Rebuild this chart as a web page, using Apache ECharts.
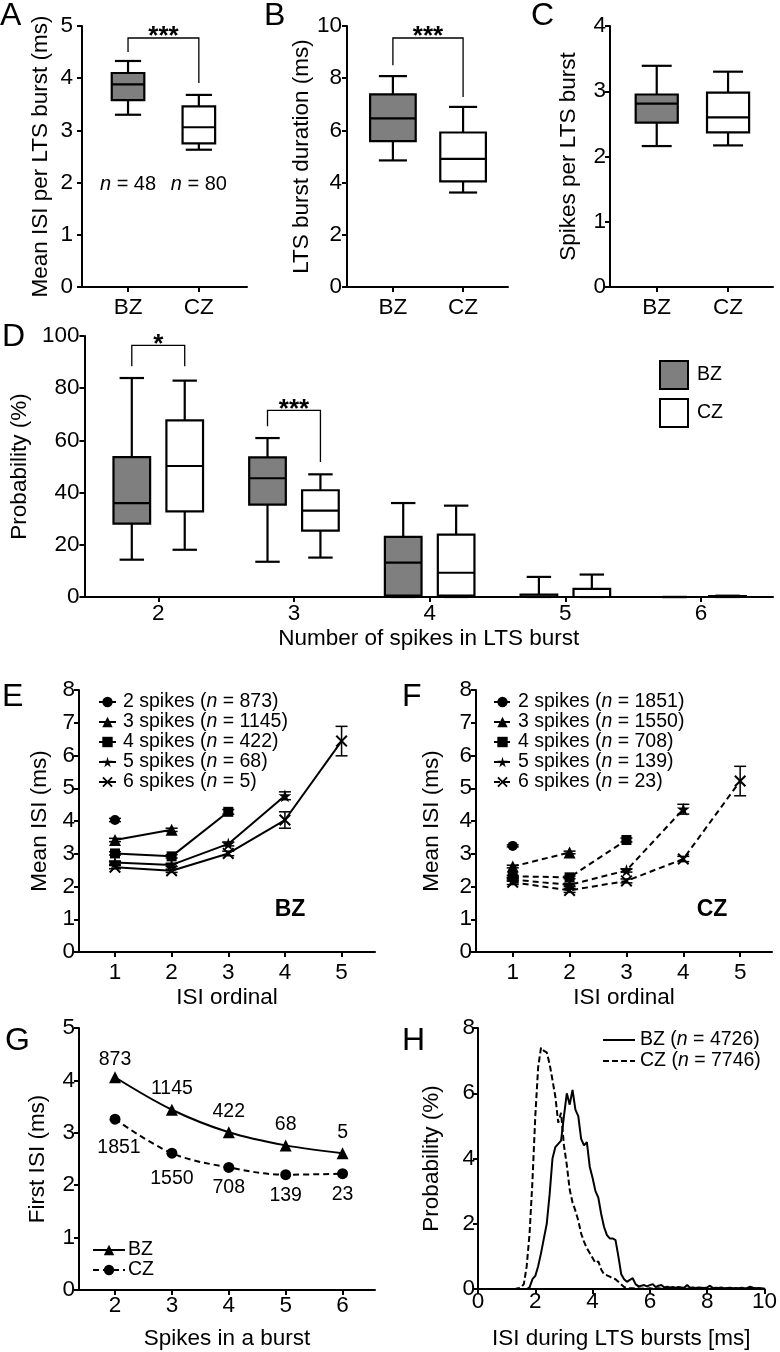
<!DOCTYPE html>
<html>
<head>
<meta charset="utf-8">
<title>LTS burst statistics</title>
<script src="https://cdn.jsdelivr.net/npm/echarts@6/dist/echarts.min.js"></script>
<style>
html, body { margin: 0; padding: 0; background: #fff; }
#chart { width: 780px; height: 1352px; }
</style>
</head>
<body>
<div id="chart"></div>
<script>
var FONT = "'Liberation Sans', Arial, Helvetica, sans-serif";

// ---- data ----
var groups = ['BZ', 'CZ'];
var nCells = [48, 80];
// box plots: [min, Q1, median, Q3, max]
var meanIsiBZ = [3.30, 3.58, 3.88, 4.10, 4.33];
var meanIsiCZ = [2.63, 2.75, 3.06, 3.46, 3.68];
var durationBZ = [4.85, 5.59, 6.46, 7.38, 8.08];
var durationCZ = [3.62, 4.05, 4.91, 5.92, 6.90];
var spikesBZ = [2.16, 2.52, 2.81, 2.95, 3.39];
var spikesCZ = [2.17, 2.37, 2.60, 2.98, 3.30];

var burstSizes = [2, 3, 4, 5, 6];
var probBZ = [
    [14.3, 28.1, 36.0, 53.6, 83.9],
    [13.5, 35.4, 45.5, 53.5, 60.9],
    [0, 0.5, 13.2, 23.0, 36.0],
    [0, 0, 0, 0.9, 7.7],
    [0, 0, 0, 0, 0]
];
var probCZ = [
    [18.1, 32.8, 50.2, 67.7, 82.9],
    [15.1, 25.4, 33.1, 40.9, 47.0],
    [0, 0.5, 9.3, 23.9, 35.0],
    [0, 0, 0, 3.1, 8.6],
    [0, 0, 0, 0.3, 0.5]
];

// significance brackets: [top, left end, right end]
var sigA = [4.77, 4.50, 3.91];
var sigB = [9.54, 8.50, 7.28];
var sigDBursts = [2, 3];
var sigD = [[96.4, 88.4, 88.4], [71.5, 65.4, 51.7]];
var starsA = '***', starsB = '***', starsD = ['*', '***'];

// E / F: mean ISI by ordinal, one array per burst size
var ordinals = [1, 2, 3, 4, 5];
var isiBZ = [[4.03], [3.42, 3.73], [3.01, 2.92, 4.28], [2.73, 2.66, 3.30, 4.77], [2.59, 2.48, 3.01, 4.03, 6.44]];
var semBZ = [[0.05], [0.05, 0.05], [0.05, 0.05, 0.07], [0.05, 0.05, 0.06, 0.12], [0.05, 0.05, 0.07, 0.25, 0.45]];
var isiCZ = [[3.24], [2.61, 3.04], [2.31, 2.28, 3.42], [2.21, 2.05, 2.49, 4.36], [2.13, 1.88, 2.17, 2.84, 5.22]];
var semCZ = [[0.03], [0.04, 0.04], [0.03, 0.04, 0.06], [0.05, 0.05, 0.05, 0.15], [0.07, 0.06, 0.06, 0.08, 0.45]];
var nBZ = [873, 1145, 422, 68, 5];
var nCZ = [1851, 1550, 708, 139, 23];

// G: first ISI by burst size
var firstIsiBZ = [4.06, 3.44, 3.01, 2.76, 2.61];
var firstIsiCZ = [3.26, 2.61, 2.34, 2.20, 2.22];

// H: ISI histogram (%)
var isiBins = [0, 1.2, 1.3, 1.4, 1.5, 1.6, 1.7, 1.8, 1.9, 2.0, 2.1, 2.2, 2.3, 2.4, 2.5, 2.6, 2.7, 2.8, 2.9,
    3.0, 3.1, 3.2, 3.3, 3.4, 3.5, 3.6, 3.7, 3.8, 3.9, 4.0, 4.1, 4.2, 4.3, 4.4, 4.5, 4.6, 4.7, 4.8, 4.9,
    5.0, 5.1, 5.2, 5.3, 5.4, 5.5, 5.6, 5.7, 5.8, 5.9, 6.0, 6.1, 6.2, 6.3, 6.4, 6.5, 6.6, 6.7, 6.8, 6.9,
    7.0, 7.1, 7.2, 7.3, 7.4, 7.5, 7.6, 7.7, 7.8, 7.9, 8.0, 8.1, 8.2, 8.3, 8.4, 8.5, 8.6, 8.7, 8.8, 8.9,
    9.0, 9.1, 9.2, 9.3, 9.4, 9.5, 9.6, 9.7, 9.8, 9.9, 10.0];
var histBZ = [0, 0, 0, 0, 0, 0, 0, 0.05, 0.3, 0.4, 0.7, 1.1, 1.55, 2.0, 2.9, 4.0, 4.35, 4.45, 4.55,
    5.3, 6.0, 5.65, 6.1, 5.5, 5.3, 4.6, 4.4, 4.5, 3.75, 3.4, 3.0, 2.8, 2.3, 1.9, 1.65, 1.55, 1.55, 1.5, 1.0,
    0.45, 0.3, 0.22, 0.28, 0.33, 0.15, 0.08, 0.1, 0.12, 0.08, 0.12, 0.15, 0.06, 0.1, 0.12, 0.05, 0.07, 0.05, 0.06, 0.04,
    0.06, 0.05, 0.04, 0.12, 0.04, 0.05, 0.03, 0.05, 0.04, 0.03, 0.05, 0.1, 0.03, 0.04, 0.03, 0.05, 0.02, 0.03, 0.04, 0.02,
    0.03, 0.02, 0.04, 0.02, 0.03, 0.07, 0.04, 0.02, 0.03, 0.02, 0.01];
var histCZ = [0, 0, 0, 0.02, 0.05, 0.15, 0.7, 1.7, 3.3, 5.3, 6.8, 7.4, 7.3, 7.25, 6.9, 6.4, 5.9, 5.1, 5.4,
    4.4, 3.8, 3.05, 2.65, 2.4, 2.1, 1.7, 1.45, 1.25, 1.1, 0.95, 0.8, 0.85, 0.6, 0.45, 0.42, 0.38, 0.33, 0.3, 0.22,
    0.14, 0.06, 0.03, 0.02, 0.02, 0.01, 0.02, 0.01, 0.02, 0.01, 0.02, 0.01, 0.01, 0.02, 0.01, 0.01, 0.02, 0.01, 0.01, 0.01,
    0.02, 0.01, 0.01, 0.01, 0.02, 0.01, 0.01, 0.01, 0.01, 0.02, 0.01, 0.01, 0.01, 0.01, 0.01, 0.02, 0.01, 0.01, 0.01, 0.01,
    0.01, 0.01, 0.01, 0.01, 0.01, 0.02, 0.01, 0.01, 0.01, 0.01, 0.01];
var nH = [4726, 7746];

// ---- styling ----
var GRAY = '#7f7f7f';
var GROUP_OFFSET = 0.195;   // BZ / CZ box offset in panel D
var N_LABEL_Y = 1.97;
var STAR = 'path://M5,0L6.1,3.7L10,3.7L6.9,6L8.1,9.8L5,7.4L1.9,9.8L3.1,6L0,3.7L3.9,3.7Z';
var CROSS = 'path://M0,1.2L1.2,0L5,3.8L8.8,0L10,1.2L6.2,5L10,8.8L8.8,10L5,6.2L1.2,10L0,8.8L3.8,5Z';
var spikeSymbols = ['circle', 'triangle', 'rect', STAR, CROSS];
var spikeSymbolSizes = [10, 12, 10, 13, 12];

function valueAxis(gridIndex, o) {
    var ax = {
        type: 'value', gridIndex: gridIndex,
        min: o.min, max: o.max,
        name: o.name || '', nameLocation: 'middle', nameGap: o.nameGap || 30,
        nameRotate: o.rotate || 0,
        nameTextStyle: { color: '#000', fontSize: 22.5, fontFamily: FONT },
        axisLine: { show: true, onZero: false, lineStyle: { color: '#000', width: 2 } },
        axisTick: { show: true, length: 5, lineStyle: { color: '#000', width: 2 } },
        axisLabel: { color: '#000', fontSize: 22.5, fontFamily: FONT, margin: o.margin },
        splitLine: { show: false }
    };
    if (o.interval) ax.interval = o.interval;
    if (o.ticks) {
        ax.axisTick.customValues = o.ticks;
        ax.axisLabel.customValues = o.ticks;
    }
    if (o.formatter) ax.axisLabel.formatter = o.formatter;
    return ax;
}

function groupName(v) { return groups[Math.round(v) - 1]; }

function boxRenderer(boxW, capW, fill) {
    return function (params, api) {
        var x = api.value(0);
        var lo = api.coord([x, api.value(1)]);
        var q1 = api.coord([x, api.value(2)]);
        var md = api.coord([x, api.value(3)]);
        var q3 = api.coord([x, api.value(4)]);
        var hi = api.coord([x, api.value(5)]);
        var hw = api.size([boxW, 0])[0] / 2;
        var hc = api.size([capW, 0])[0] / 2;
        var cx = lo[0];
        var st = { stroke: '#000', lineWidth: 2.2, fill: null };
        return {
            type: 'group', children: [
                { type: 'line', shape: { x1: cx, y1: hi[1], x2: cx, y2: q3[1] }, style: st },
                { type: 'line', shape: { x1: cx, y1: q1[1], x2: cx, y2: lo[1] }, style: st },
                { type: 'line', shape: { x1: cx - hc, y1: hi[1], x2: cx + hc, y2: hi[1] }, style: st },
                { type: 'line', shape: { x1: cx - hc, y1: lo[1], x2: cx + hc, y2: lo[1] }, style: st },
                { type: 'rect', shape: { x: cx - hw, y: q3[1], width: 2 * hw, height: q1[1] - q3[1] },
                  style: { fill: fill, stroke: '#000', lineWidth: 2.2 } },
                { type: 'line', shape: { x1: cx - hw, y1: md[1], x2: cx + hw, y2: md[1] }, style: st }
            ]
        };
    };
}

function boxSeries(name, grid, rows, fill, boxW, capW) {
    return {
        type: 'custom', name: name, xAxisIndex: grid, yAxisIndex: grid,
        silent: true, clip: false,
        itemStyle: { color: fill, borderColor: '#000', borderWidth: 2 },
        encode: { x: 0, y: [1, 2, 3, 4, 5] },
        renderItem: boxRenderer(boxW, capW, fill),
        data: rows
    };
}

function bracketSeries(grid, rows, stars) {
    return {
        type: 'custom', xAxisIndex: grid, yAxisIndex: grid, silent: true, clip: false,
        encode: { x: [0, 1], y: [2, 3, 4] },
        renderItem: function (params, api) {
            var a = api.coord([api.value(0), api.value(3)]);
            var b = api.coord([api.value(0), api.value(2)]);
            var c = api.coord([api.value(1), api.value(2)]);
            var d = api.coord([api.value(1), api.value(4)]);
            return {
                type: 'group', children: [
                    { type: 'polyline', shape: { points: [a, b, c, d] },
                      style: { stroke: '#000', lineWidth: 1.3, fill: null } },
                    { type: 'text', x: (b[0] + c[0]) / 2, y: b[1] - 1,
                      style: { text: stars[params.dataIndex], fill: '#000', fontSize: 26, fontWeight: 'bold', fontFamily: FONT,
                               align: 'center', verticalAlign: 'middle', textAlign: 'center', textVerticalAlign: 'middle' } }
                ]
            };
        },
        data: rows
    };
}

function errorSeries(grid, means, sems) {
    var rows = means.map(function (m, j) { return [ordinals[j], m, sems[j]]; });
    return {
        type: 'custom', xAxisIndex: grid, yAxisIndex: grid, silent: true, clip: false, z: 4,
        encode: { x: 0, y: 1 },
        renderItem: function (params, api) {
            var x = api.value(0), m = api.value(1), s = api.value(2);
            var top = api.coord([x, m + s]);
            var bot = api.coord([x, m - s]);
            var st = { stroke: '#000', lineWidth: 1.5, fill: null };
            return {
                type: 'group', children: [
                    { type: 'line', shape: { x1: top[0], y1: top[1], x2: bot[0], y2: bot[1] }, style: st },
                    { type: 'line', shape: { x1: top[0] - 6, y1: top[1], x2: top[0] + 6, y2: top[1] }, style: st },
                    { type: 'line', shape: { x1: bot[0] - 6, y1: bot[1], x2: bot[0] + 6, y2: bot[1] }, style: st }
                ]
            };
        },
        data: rows
    };
}

function ordinalSeries(prefix, grid, means, dashed) {
    return means.map(function (vals, i) {
        return {
            type: 'line', name: prefix + burstSizes[i], xAxisIndex: grid, yAxisIndex: grid,
            symbol: spikeSymbols[i], symbolSize: spikeSymbolSizes[i], showSymbol: true,
            itemStyle: { color: '#000' },
            lineStyle: { color: '#000', width: 2, type: dashed ? [6, 4] : 'solid' },
            silent: true, animation: false,
            data: vals.map(function (v, j) { return [ordinals[j], v]; })
        };
    });
}

function spikeLegend(prefix, left, counts) {
    return {
        left: left, top: 692, orient: 'vertical', padding: 0, itemGap: 0,
        itemWidth: 17, itemHeight: 13, selectedMode: false,
        data: burstSizes.map(function (s) { return prefix + s; }),
        formatter: function (name) {
            var i = burstSizes.indexOf(+name.slice(1));
            return '{t|' + burstSizes[i] + ' spikes (}{i|n}{t| = ' + counts[i] + ')}';
        },
        textStyle: {
            color: '#000', fontSize: 19.5, fontFamily: FONT, lineHeight: 19, padding: [0, 0, 0, 2],
            rich: {
                t: { fontSize: 19.5, fontFamily: FONT, color: '#000', lineHeight: 19 },
                i: { fontSize: 19.5, fontFamily: FONT, color: '#000', fontStyle: 'italic', lineHeight: 19 }
            }
        }
    };
}

// ---- series ----
var series = [];
series.push(boxSeries('A-BZ', 0, [[1].concat(meanIsiBZ)], GRAY, 0.46, 0.37));
series.push(boxSeries('A-CZ', 0, [[2].concat(meanIsiCZ)], '#fff', 0.46, 0.37));
series.push(bracketSeries(0, [[1, 2].concat(sigA)], [starsA]));
series.push({
    type: 'custom', xAxisIndex: 0, yAxisIndex: 0, silent: true, clip: false,
    encode: { x: 0, y: 1 },
    renderItem: function (params, api) {
        var p = api.coord([api.value(0), N_LABEL_Y]);
        return {
            type: 'text', x: p[0], y: p[1],
            style: {
                text: '{i|n}{t| = ' + nCells[params.dataIndex] + '}',
                rich: {
                    i: { fontSize: 20, fontFamily: FONT, fontStyle: 'italic', fill: '#000', color: '#000' },
                    t: { fontSize: 20, fontFamily: FONT, fill: '#000', color: '#000' }
                },
                align: 'center', verticalAlign: 'middle', textAlign: 'center', textVerticalAlign: 'middle'
            }
        };
    },
    data: [[1, N_LABEL_Y], [2, N_LABEL_Y]]
});

series.push(boxSeries('B-BZ', 1, [[1].concat(durationBZ)], GRAY, 0.65, 0.40));
series.push(boxSeries('B-CZ', 1, [[2].concat(durationCZ)], '#fff', 0.65, 0.40));
series.push(bracketSeries(1, [[1, 2].concat(sigB)], [starsB]));

series.push(boxSeries('C-BZ', 2, [[1].concat(spikesBZ)], GRAY, 0.59, 0.42));
series.push(boxSeries('C-CZ', 2, [[2].concat(spikesCZ)], '#fff', 0.59, 0.42));

series.push(boxSeries('D-BZ', 3, burstSizes.map(function (s, i) { return [s - GROUP_OFFSET].concat(probBZ[i]); }), GRAY, 0.27, 0.18));
series.push(boxSeries('D-CZ', 3, burstSizes.map(function (s, i) { return [s + GROUP_OFFSET].concat(probCZ[i]); }), '#fff', 0.27, 0.18));
series.push(bracketSeries(3, sigDBursts.map(function (s, k) {
    return [s - GROUP_OFFSET, s + GROUP_OFFSET].concat(sigD[k]);
}), starsD));

series = series.concat(ordinalSeries('E', 4, isiBZ, false));
isiBZ.forEach(function (m, i) { series.push(errorSeries(4, m, semBZ[i])); });
series = series.concat(ordinalSeries('F', 5, isiCZ, true));
isiCZ.forEach(function (m, i) { series.push(errorSeries(5, m, semCZ[i])); });

var nudgeBZ = [[0, 3], [0, 0], [0, 0], [0, 0], [0, 0]];
var nudgeCZ = [[4, 8], [0, 5], [0, 0], [0, 0], [0, 0]];
function firstIsiData(vals, counts, nudge) {
    return vals.map(function (v, i) {
        return { value: [burstSizes[i], v], name: String(counts[i]), label: { offset: nudge[i] } };
    });
}
series.push({
    type: 'line', name: 'G-BZ', xAxisIndex: 6, yAxisIndex: 6, smooth: 0.35,
    symbol: 'triangle', symbolSize: 12, itemStyle: { color: '#000' },
    lineStyle: { color: '#000', width: 2 }, silent: true,
    label: { show: true, position: 'top', distance: 5, color: '#000', fontSize: 19.5, fontFamily: FONT,
             formatter: function (p) { return p.name; } },
    data: firstIsiData(firstIsiBZ, nBZ, nudgeBZ)
});
series.push({
    type: 'line', name: 'G-CZ', xAxisIndex: 6, yAxisIndex: 6, smooth: 0.35,
    symbol: 'circle', symbolSize: 11, itemStyle: { color: '#000' },
    lineStyle: { color: '#000', width: 2, type: [6, 4] }, silent: true,
    label: { show: true, position: 'bottom', distance: 5, color: '#000', fontSize: 19.5, fontFamily: FONT,
             formatter: function (p) { return p.name; } },
    data: firstIsiData(firstIsiCZ, nCZ, nudgeCZ)
});

series.push({
    type: 'line', name: 'H-BZ', xAxisIndex: 7, yAxisIndex: 7, symbol: 'none', silent: true,
    itemStyle: { color: '#000' }, lineStyle: { color: '#000', width: 2 },
    data: isiBins.map(function (x, i) { return [x, histBZ[i]]; })
});
series.push({
    type: 'line', name: 'H-CZ', xAxisIndex: 7, yAxisIndex: 7, symbol: 'none', silent: true,
    itemStyle: { color: '#000' }, lineStyle: { color: '#000', width: 2, type: [6, 3] },
    data: isiBins.map(function (x, i) { return [x, histCZ[i]]; })
});

// ---- layout ----
var grids = [
    { left: 82, top: 26, width: 165, height: 261 },
    { left: 347, top: 26, width: 161, height: 261 },
    { left: 610, top: 26, width: 163, height: 261 },
    { left: 80, top: 336, width: 693, height: 261 },
    { left: 79, top: 690, width: 296, height: 262 },
    { left: 476, top: 690, width: 296, height: 262 },
    { left: 79, top: 1028, width: 296, height: 262 },
    { left: 478, top: 1028, width: 289, height: 261 }
];

var xAxes = [
    valueAxis(0, { min: 0.35, max: 2.68, ticks: [1, 2], formatter: groupName, margin: 9 }),
    valueAxis(1, { min: 0.346, max: 2.64, ticks: [1, 2], formatter: groupName, margin: 9 }),
    valueAxis(2, { min: 0.345, max: 2.63, ticks: [1, 2], formatter: groupName, margin: 9 }),
    valueAxis(3, { min: 1.456, max: 6.53, ticks: burstSizes, margin: 5, name: 'Number of spikes in LTS burst', nameGap: 30 }),
    valueAxis(4, { min: 0.365, max: 5.59, ticks: ordinals, margin: 9, name: 'ISI ordinal', nameGap: 34 }),
    valueAxis(5, { min: 0.354, max: 5.56, ticks: ordinals, margin: 9, name: 'ISI ordinal', nameGap: 34 }),
    valueAxis(6, { min: 1.367, max: 6.57, ticks: burstSizes, margin: 4, name: 'Spikes in a burst', nameGap: 37 }),
    valueAxis(7, { min: 0, max: 10, interval: 2, margin: 1, name: 'ISI during LTS bursts [ms]', nameGap: 38 })
];
var yAxes = [
    valueAxis(0, { min: 0, max: 5, interval: 1, margin: 9, name: 'Mean ISI per LTS burst (ms)', nameGap: 30, rotate: 90 }),
    valueAxis(1, { min: 0, max: 10, interval: 2, margin: 5, name: 'LTS burst duration (ms)', nameGap: 33, rotate: 90 }),
    valueAxis(2, { min: 0, max: 4, interval: 1, margin: 4, name: 'Spikes per LTS burst', nameGap: 30, rotate: 90 }),
    valueAxis(3, { min: 0, max: 100, interval: 20, margin: 5, name: 'Probability (%)', nameGap: 39, rotate: 90 }),
    valueAxis(4, { min: 0, max: 8, interval: 1, margin: 4, name: 'Mean ISI (ms)', nameGap: 28, rotate: 90 }),
    valueAxis(5, { min: 0, max: 8, interval: 1, margin: 4, name: 'Mean ISI (ms)', nameGap: 33, rotate: 90 }),
    valueAxis(6, { min: 0, max: 5, interval: 1, margin: 4, name: 'First ISI (ms)', nameGap: 30, rotate: 90 }),
    valueAxis(7, { min: 0, max: 8, interval: 2, margin: 3, name: 'Probability (%)', nameGap: 35, rotate: 90 })
];

var legends = [
    {
        left: 659, top: 360, orient: 'vertical', padding: 0, itemGap: 8, itemWidth: 28, itemHeight: 28,
        icon: 'rect', selectedMode: false,
        data: [
            { name: 'D-BZ', itemStyle: { color: GRAY, borderColor: '#000', borderWidth: 2 } },
            { name: 'D-CZ', itemStyle: { color: '#fff', borderColor: '#000', borderWidth: 2 } }
        ],
        formatter: function (name) { return name.slice(2); },
        textStyle: { color: '#000', fontSize: 19.5, fontFamily: FONT, padding: [0, 0, 0, 4] }
    },
    spikeLegend('E', 98, nBZ),
    spikeLegend('F', 493, nCZ),
    {
        left: 92, top: 1240, orient: 'vertical', padding: 0, itemGap: 0, itemWidth: 32, itemHeight: 13,
        selectedMode: false, data: ['G-BZ', 'G-CZ'],
        formatter: function (name) { return name.slice(2); },
        textStyle: { color: '#000', fontSize: 19.5, fontFamily: FONT, lineHeight: 18, padding: [0, 0, 0, -2] }
    },
    {
        left: 602, top: 1030, orient: 'vertical', padding: 0, itemGap: 1, itemWidth: 32, itemHeight: 13,
        selectedMode: false,
        data: [
            { name: 'H-BZ', itemStyle: { color: 'transparent', borderWidth: 0 } },
            { name: 'H-CZ', itemStyle: { color: 'transparent', borderWidth: 0 } }
        ],
        formatter: function (name) {
            var i = groups.indexOf(name.slice(2));
            return '{t|' + groups[i] + ' (}{i|n}{t| = ' + nH[i] + ')}';
        },
        textStyle: {
            color: '#000', fontSize: 19.5, fontFamily: FONT, lineHeight: 20,
            rich: {
                t: { fontSize: 19.5, fontFamily: FONT, color: '#000', lineHeight: 20 },
                i: { fontSize: 19.5, fontFamily: FONT, color: '#000', fontStyle: 'italic', lineHeight: 20 }
            }
        }
    }
];

function panelLetter(ch, x, y) {
    return { type: 'text', x: x, y: y, style: { text: ch, fontSize: 32, fontFamily: FONT, fill: '#000',
        align: 'left', verticalAlign: 'middle', textAlign: 'left', textVerticalAlign: 'middle' } };
}
function zoneTag(txt, x, y) {
    return { type: 'text', x: x, y: y, style: { text: txt, fontSize: 23, fontWeight: 'bold', fontFamily: FONT, fill: '#000',
        align: 'center', verticalAlign: 'middle', textAlign: 'center', textVerticalAlign: 'middle' } };
}

var option = {
    animation: false,
    backgroundColor: '#fff',
    textStyle: { fontFamily: FONT },
    grid: grids,
    xAxis: xAxes,
    yAxis: yAxes,
    legend: legends,
    graphic: [
        panelLetter('A', 0, 16), panelLetter('B', 264, 16), panelLetter('C', 531, 16),
        panelLetter('D', 2, 337), panelLetter('E', 2, 697), panelLetter('F', 402, 697),
        panelLetter('G', 5, 1041), panelLetter('H', 402, 1041),
        zoneTag('BZ', 290, 910), zoneTag('CZ', 712, 910)
    ],
    series: series
};

var chart = echarts.init(document.getElementById('chart'), null, { renderer: 'canvas' });
chart.setOption(option);
</script>
</body>
</html>
